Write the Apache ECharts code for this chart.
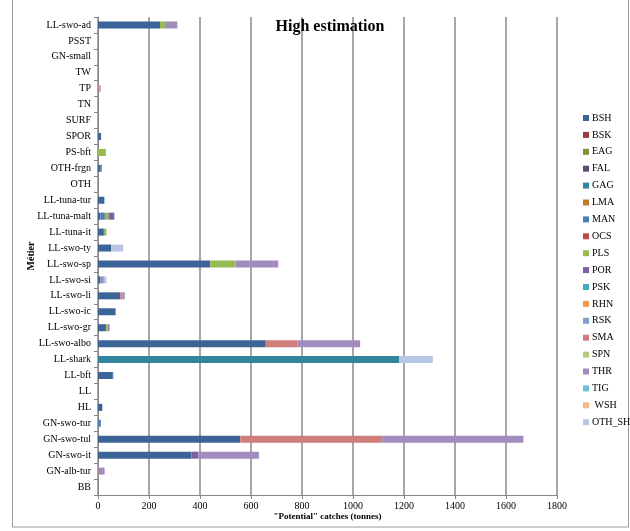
<!DOCTYPE html>
<html><head><meta charset="utf-8">
<script src="https://cdn.jsdelivr.net/npm/echarts@6/dist/echarts.min.js"></script>
<style>html,body{margin:0;padding:0;background:#fff}#c{width:630px;height:531px}</style>
</head><body><div id="c"></div>
<script>
// categories bottom to top
const categories = ["BB","GN-alb-tur","GN-swo-it","GN-swo-tul","GN-swo-tur","HL","LL","LL-bft","LL-shark","LL-swo-albo","LL-swo-gr","LL-swo-ic","LL-swo-li","LL-swo-si","LL-swo-sp","LL-swo-ty","LL-tuna-it","LL-tuna-malt","LL-tuna-tur","OTH","OTH-frgn","PS-bft","SPOR","SURF","TN","TP","TW","GN-small","PSST","LL-swo-ad"];
const speciesNames = ["BSH","BSK","EAG","FAL","GAG","LMA","MAN","OCS","PLS","POR","PSK","RHN","RSK","SMA","SPN","THR","TIG","WSH","OTH_SHA"];
const speciesLegendLabels = ["BSH","BSK","EAG","FAL","GAG","LMA","MAN","OCS","PLS","POR","PSK","RHN","RSK","SMA","SPN","THR","TIG"," WSH","OTH_SHA"];
const speciesColors = ["#3c6496","#9b3a38","#77933c","#604a7b","#31859c","#c0782f","#4a7ebb","#be4b48","#98b954","#7d60a0","#46aac5","#f79646","#7f9fcf","#d07e7b","#b3cc82","#a28bbd","#6fc0d2","#fab68c","#b7c6e4"];
// values per species, aligned with categories (bottom to top)
const BSH  = [0,0,366,558,0,17,0,58,0,658,31,69,82,10,440,51,23,10,25,0,10,0,12,0,0,0,0,0,0,243];
const BSK  = [0,0,0,0,0,0,0,0,0,0,0,0,0,0,0,0,0,0,0,0,0,0,0,0,0,0,0,0,0,0];
const EAG  = [0,0,0,0,0,0,0,0,0,0,0,0,0,0,0,0,0,0,0,0,0,0,0,0,0,0,0,0,0,0];
const FAL  = [0,0,0,0,0,0,0,0,0,0,0,0,5,0,0,0,0,0,0,0,0,0,0,0,0,0,0,0,0,0];
const GAG  = [0,0,0,0,0,0,0,0,1181,0,0,0,0,0,0,0,0,0,0,0,0,0,0,0,0,0,0,0,0,0];
const LMA  = [0,0,0,0,0,0,0,0,0,0,0,0,0,0,0,0,0,0,0,0,0,0,0,0,0,0,0,0,0,0];
const MAN  = [0,0,0,0,11,0,0,2,0,0,0,0,0,0,0,0,0,17,0,0,5,0,0,0,0,0,0,0,0,0];
const OCS  = [0,0,0,0,0,0,0,0,0,0,0,0,0,0,0,0,0,0,0,0,0,0,0,0,0,0,0,0,0,0];
const PLS  = [0,0,0,0,0,0,0,0,0,0,8,0,0,0,100,0,10,15,0,0,0,31,0,0,0,0,0,0,0,20];
const POR  = [0,0,27,0,0,0,0,0,0,0,0,0,0,0,0,0,0,22,0,0,0,0,0,0,0,0,0,0,0,0];
const PSK  = [0,0,0,0,0,0,0,0,0,0,0,0,0,0,0,0,0,0,0,0,0,0,0,0,0,0,0,0,0,0];
const RHN  = [0,0,0,0,0,0,0,0,0,0,0,0,0,0,0,0,0,0,0,0,0,0,0,0,0,0,0,0,0,0];
const RSK  = [0,0,0,0,0,0,0,0,0,0,0,0,0,0,0,0,0,0,0,0,0,0,0,0,0,0,0,0,0,0];
const SMA  = [0,2,0,557,0,0,0,0,0,124,0,0,8,0,0,0,0,0,0,0,0,0,0,0,0,5,0,0,0,0];
const SPN  = [0,0,0,0,0,0,0,0,0,0,0,0,0,0,0,0,0,0,0,0,0,0,0,0,0,0,0,0,0,0];
const THR  = [0,24,238,553,0,0,0,0,0,246,7,0,10,13,167,0,0,0,0,0,0,0,0,0,0,5,0,0,0,48];
const TIG  = [0,0,0,0,0,0,0,0,0,0,0,0,0,0,0,0,0,0,0,0,0,0,0,0,0,0,0,0,0,0];
const WSH  = [0,0,0,0,0,0,0,0,0,0,0,0,0,0,0,0,0,0,0,0,0,0,0,0,0,0,0,0,0,0];
const OTH_SHA = [0,0,0,0,0,0,0,0,132,0,0,0,0,10,0,48,0,0,0,0,0,0,0,0,0,0,0,0,0,0];
const seriesValues = [BSH,BSK,EAG,FAL,GAG,LMA,MAN,OCS,PLS,POR,PSK,RHN,RSK,SMA,SPN,THR,TIG,WSH,OTH_SHA];
const xTicks = [0,200,400,600,800,1000,1200,1400,1600,1800];

const font = '"Liberation Serif","Times New Roman",serif';
const chart = echarts.init(document.getElementById('c'), null, {renderer:'canvas'});
const series = speciesNames.map((n,i)=>({
  name: speciesLegendLabels[i], type:'bar', stack:'total', barWidth:7,
  data: seriesValues[i], itemStyle:{color:speciesColors[i]},
  emphasis:{disabled:true}, silent:true
}));
chart.setOption({
  animation:false,
  backgroundColor:'#fff',
  textStyle:{fontFamily:font},
  title:{text:'High estimation', left:325, top:14, textAlign:'center',
    textStyle:{fontFamily:font, fontSize:16, fontWeight:'bold', color:'#000'}},
  legend:{orient:'vertical', left:578, top:108, itemWidth:6, itemHeight:6, itemGap:6.9,
    icon:'rect', textStyle:{fontFamily:font, fontSize:10, color:'#000', padding:[0,0,0,-2]},
    data: speciesLegendLabels},
  grid:{left:98, right:73, top:17, bottom:36, containLabel:false, outerBoundsMode:'none'},
  xAxis:{type:'value', min:0, max:1800, interval:200,
    name:'"Potential" catches (tonnes)', nameLocation:'middle', nameGap:17, nameMoveOverlap:false,
    nameTextStyle:{fontFamily:font, fontSize:9, fontWeight:'bold', color:'#000'},
    axisLine:{show:true, lineStyle:{color:'#888'}},
    axisTick:{show:true, length:4, lineStyle:{color:'#888'}},
    axisLabel:{fontFamily:font, fontSize:10, color:'#000', margin:6,
      formatter:(v)=>xTicks.includes(v)?String(v):''},
    splitLine:{show:true, lineStyle:{color:'#8a8a8a', width:1.5}}},
  yAxis:{type:'category', data:categories,
    name:'Métier', nameLocation:'middle', nameGap:62, nameRotate:90, nameMoveOverlap:false,
    nameTextStyle:{fontFamily:font, fontSize:10, fontWeight:'bold', color:'#000'},
    axisLine:{show:true, lineStyle:{color:'#888'}},
    axisTick:{show:true, length:4, inside:false, lineStyle:{color:'#888'}},
    axisLabel:{fontFamily:font, fontSize:10, color:'#000', margin:7}},
  graphic:[{type:'rect', shape:{x:12.5, y:-1, width:616, height:528}, style:{fill:null, stroke:'#9a9a9a', lineWidth:1}, silent:true}],
  series: series
});
</script></body></html>
